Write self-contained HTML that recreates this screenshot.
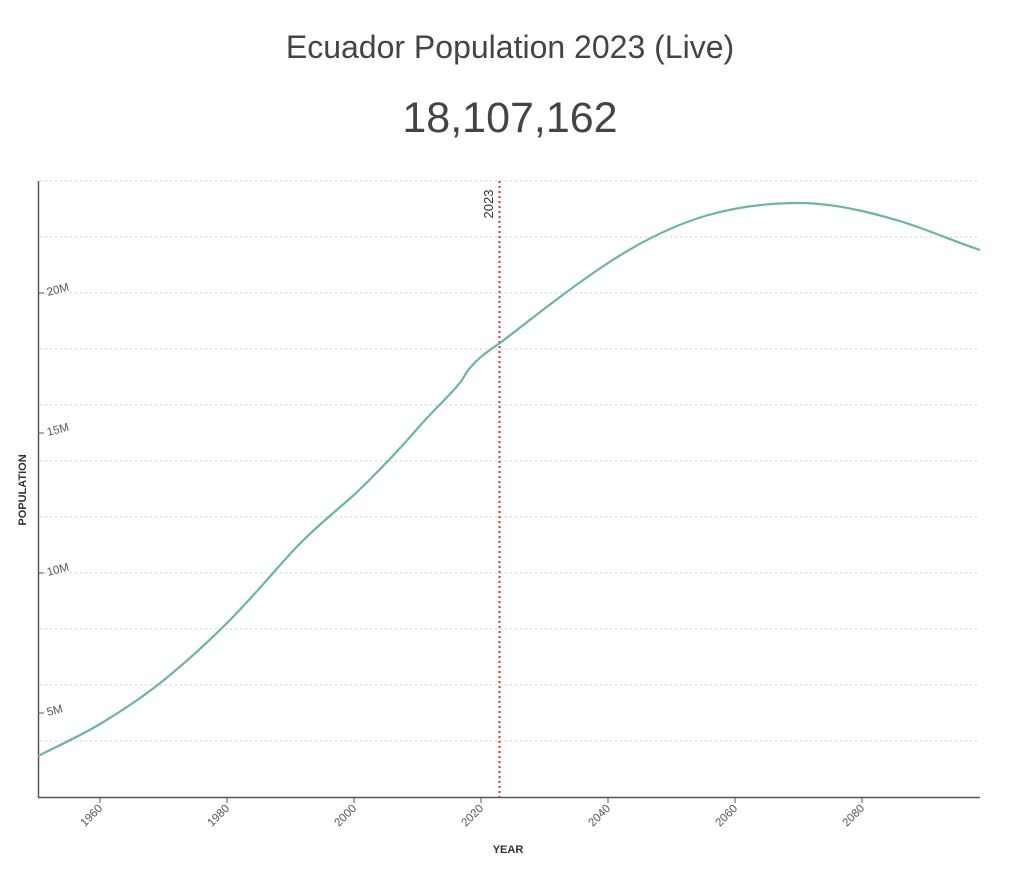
<!DOCTYPE html>
<html><head><style>
body{margin:0;background:#fff;width:1024px;height:865px;overflow:hidden;font-family:"Liberation Sans",Arial,sans-serif}
</style></head><body>
<svg width="1024" height="865" xmlns="http://www.w3.org/2000/svg" font-family="Liberation Sans, Arial, sans-serif">
<text x="510" y="58" text-anchor="middle" font-size="32" fill="#444">Ecuador Population 2023 (Live)</text>
<text x="510" y="132" text-anchor="middle" font-size="43" fill="#444">18,107,162</text>
<g stroke="#ccc" stroke-width="1" stroke-dasharray="2,3">
<line x1="40" x2="980" y1="181" y2="181"/><line x1="40" x2="980" y1="237" y2="237"/>
<line x1="40" x2="980" y1="293" y2="293"/><line x1="40" x2="980" y1="349" y2="349"/>
<line x1="40" x2="980" y1="405" y2="405"/><line x1="40" x2="980" y1="461" y2="461"/>
<line x1="40" x2="980" y1="517" y2="517"/><line x1="40" x2="980" y1="573" y2="573"/>
<line x1="40" x2="980" y1="629" y2="629"/><line x1="40" x2="980" y1="685" y2="685"/>
<line x1="40" x2="980" y1="741" y2="741"/>
</g>
<line x1="38.5" y1="181" x2="38.5" y2="798" stroke="#555" stroke-width="1.5"/>
<line x1="38" y1="797.5" x2="980" y2="797.5" stroke="#555" stroke-width="1.5"/>
<g stroke="#555" stroke-width="1">
<line x1="39" x2="44" y1="293" y2="293"/><line x1="39" x2="44" y1="433" y2="433"/>
<line x1="39" x2="44" y1="573" y2="573"/><line x1="39" x2="44" y1="713" y2="713"/>
<line x1="100" x2="100" y1="797" y2="803"/><line x1="227" x2="227" y1="797" y2="803"/>
<line x1="354" x2="354" y1="797" y2="803"/><line x1="481" x2="481" y1="797" y2="803"/>
<line x1="608" x2="608" y1="797" y2="803"/><line x1="735" x2="735" y1="797" y2="803"/>
<line x1="862" x2="862" y1="797" y2="803"/>
</g>
<g font-size="11.5" fill="#555">
<text transform="translate(48,296) rotate(-15)">20M</text>
<text transform="translate(48,436) rotate(-15)">15M</text>
<text transform="translate(48,576) rotate(-15)">10M</text>
<text transform="translate(48,716) rotate(-15)">5M</text>
<g text-anchor="end">
<text transform="translate(103,809) rotate(-45)">1960</text>
<text transform="translate(230,809) rotate(-45)">1980</text>
<text transform="translate(357,809) rotate(-45)">2000</text>
<text transform="translate(484,809) rotate(-45)">2020</text>
<text transform="translate(611,809) rotate(-45)">2040</text>
<text transform="translate(738,809) rotate(-45)">2060</text>
<text transform="translate(865,809) rotate(-45)">2080</text>
</g>
</g>
<text x="508" y="853" text-anchor="middle" font-size="11" font-weight="bold" fill="#333">YEAR</text>
<text transform="translate(26,490) rotate(-90)" text-anchor="middle" font-size="11" font-weight="bold" fill="#333">POPULATION</text>
<line x1="499.5" y1="181" x2="499.5" y2="797" stroke="#d33" stroke-width="2" stroke-dasharray="2,3"/>
<text transform="translate(493,204) rotate(-90)" text-anchor="middle" font-size="13" fill="#333">2023</text>
<path d="M38,756 C60,745 80,736 100,724 C120,712 143,697 164,680 C185,663 207,643 228,622 C250,600 270,576 291,553 C312,530 335,512 355,494 C375,475 397,452 418,428 C435,408 452,394 462,380 C465,375 467,371 470,368 C480,356 490,350 500,343 C530,320 570,288 608,263 C640,242 672,226 705,216 C735,207 765,203 799,203 C825,203 848,208 862,211 C888,217 910,224 926,230 C945,237 962,244 980,250" fill="none" stroke="#6ab5a5" stroke-width="2.2"/>
</svg>
</body></html>
